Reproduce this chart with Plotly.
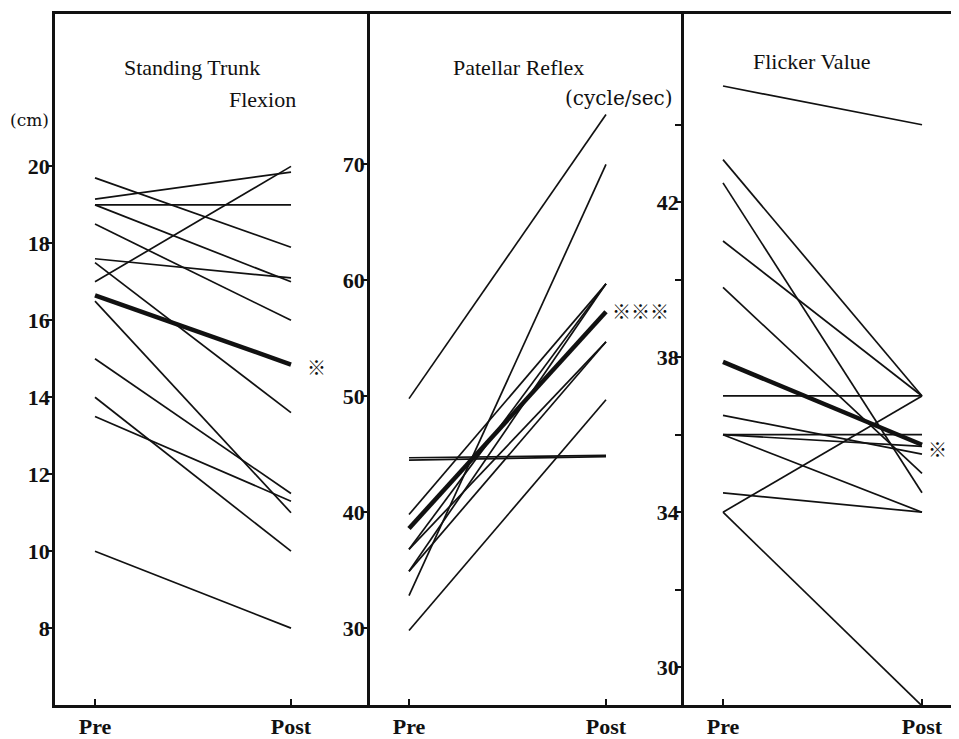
import plotly.graph_objects as go

# ---------------- data ----------------
phases = ["Pre", "Post"]
phase_pos = [0, 1]

trunk_pre = [19.7, 19.15, 19.0, 19.0, 18.5, 17.6, 17.0, 17.5, 16.5, 15.0, 14.0, 13.5, 10.0]
trunk_post = [17.9, 19.85, 19.0, 17.0, 16.0, 17.1, 20.0, 13.6, 11.0, 11.5, 10.0, 11.3, 8.0]
trunk_mean = [16.65, 14.85]
trunk_ticks = [8, 10, 12, 14, 16, 18, 20]

reflex_pre = [49.8, 44.7, 44.5, 39.8, 36.8, 36.8, 34.9, 34.9, 32.8, 29.8]
reflex_post = [74.3, 44.9, 44.8, 59.7, 59.7, 54.7, 59.7, 54.7, 70.0, 49.7]
reflex_mean = [38.6, 57.3]
reflex_ticks = [30, 40, 50, 60, 70]

flicker_pre = [45.0, 43.1, 42.5, 41.0, 39.8, 37.0, 36.5, 36.0, 36.0, 36.0, 34.5, 34.0, 34.0]
flicker_post = [44.0, 37.0, 34.5, 37.0, 35.0, 37.0, 35.5, 36.0, 35.7, 34.0, 34.0, 37.0, 29.0]
flicker_mean = [37.88, 35.74]
flicker_ticks = [30, 32, 34, 36, 38, 40, 42, 44]
flicker_ticktext = ["30", "", "34", "", "38", "", "42", ""]

titles = ["Standing Trunk", "Flexion", "Patellar Reflex", "Flicker Value"]
units = ["(cm)", "(cycle/sec)"]
marks = ["※", "※※※", "※"]

# ---------------- layout helpers ----------------
# the page body has an 8px margin, so the figure is placed 8px in and down
OFF = 8
W, H = 959 - OFF, 739 - OFF
def px(x):
    return (x - OFF) / W
def py(y):
    return 1 - (y - OFF) / H

INK = "#111111"
SERIF = "Liberation Serif"
y_dom = [py(708), py(14)]

fig = go.Figure()

panels = [
    (trunk_pre, trunk_post, trunk_mean, "x", "y"),
    (reflex_pre, reflex_post, reflex_mean, "x2", "y2"),
    (flicker_pre, flicker_post, flicker_mean, "x3", "y3"),
]
for pre, post, mean, xa, ya in panels:
    for a, b in zip(pre, post):
        fig.add_trace(go.Scatter(x=phase_pos, y=[a, b], mode="lines",
                                 line=dict(color=INK, width=1.7),
                                 xaxis=xa, yaxis=ya, showlegend=False,
                                 hoverinfo="skip"))
    fig.add_trace(go.Scatter(x=phase_pos, y=mean, mode="lines",
                             line=dict(color=INK, width=4.5),
                             xaxis=xa, yaxis=ya, showlegend=False,
                             hoverinfo="skip"))

xcommon = dict(tickvals=phase_pos, ticktext=phases, ticks="inside", ticklen=6,
               tickwidth=2, tickcolor=INK, showline=True, linecolor=INK,
               linewidth=2.5, mirror=True, showgrid=False, zeroline=False,
               tickfont=dict(family=SERIF, size=22, color=INK, weight="bold"),
               fixedrange=True)
ycommon = dict(ticks="outside", ticklen=6, tickwidth=2, tickcolor=INK,
               showline=True, linecolor=INK, linewidth=2.5, mirror=False,
               showgrid=False, zeroline=False, ticklabelstandoff=-8,
               tickfont=dict(family=SERIF, size=22, color=INK, weight="bold"),
               fixedrange=True)

fig.update_layout(
    width=W, height=H,
    margin=dict(l=0, r=0, t=0, b=0),
    paper_bgcolor="white", plot_bgcolor="white",
    showlegend=False,
    xaxis=dict(domain=[px(55), px(370)], range=[-40/196, 275/196], anchor="y", **xcommon),
    yaxis=dict(domain=y_dom, range=[6.0, 23.96], tickvals=trunk_ticks,
               ticktext=[str(t) for t in trunk_ticks], anchor="x", **ycommon),
    xaxis2=dict(domain=[px(370), px(684)], range=[-39/197, 275/197], anchor="y2", **xcommon),
    yaxis2=dict(domain=y_dom, range=[23.36, 82.98], tickvals=reflex_ticks,
                ticktext=[str(t) for t in reflex_ticks], anchor="x2", **ycommon),
    xaxis3=dict(domain=[px(684), 1.0], range=[-39/199, 236/199], anchor="y3", **xcommon),
    yaxis3=dict(domain=y_dom, range=[29.02, 46.86], tickvals=flicker_ticks,
                ticktext=flicker_ticktext, anchor="x3", **ycommon),
)

def note(text, x, y, size=22, family=SERIF, xanchor="center", bold=False):
    fig.add_annotation(text=text, x=px(x), y=py(y), xref="paper", yref="paper",
                       showarrow=False, xanchor=xanchor, yanchor="middle",
                       font=dict(family=family, size=size, color=INK,
                                 weight="bold" if bold else "normal"))

note(titles[0], 122, 68, xanchor="left")
note(titles[1], 298, 100, xanchor="right")
note(titles[2], 518, 68)
note(titles[3], 812, 62)
note(units[0], 29, 120, size=17, family="DejaVu Serif")
note(units[1], 619, 98, size=20, family="DejaVu Serif")
note(marks[0], 316, 368, size=19, family="Noto Sans CJK JP")
note(marks[1], 640, 312, size=19, family="Noto Sans CJK JP")
note(marks[2], 937, 450, size=19, family="Noto Sans CJK JP")

fig.write_html("out.html")
